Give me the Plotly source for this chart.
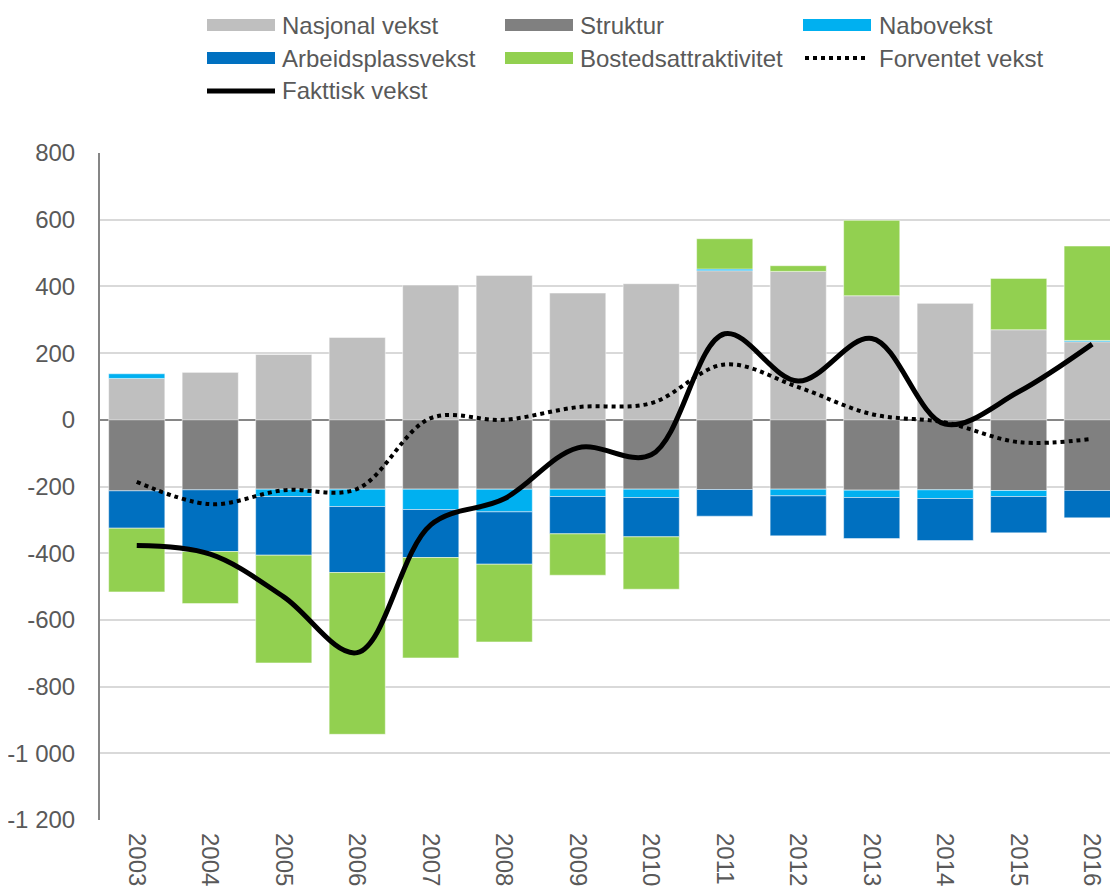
import plotly.graph_objects as go

years = ["2003", "2004", "2005", "2006", "2007", "2008", "2009",
         "2010", "2011", "2012", "2013", "2014", "2015", "2016"]

nasjonal = [124, 143, 196, 247, 404, 433, 380, 408, 447, 445, 372, 350, 270, 234]
struktur = [-213, -210, -208, -208, -208, -208, -208, -208, -209, -208, -211, -210, -212, -212]
nabovekst = [14, 0, -22, -52, -61, -68, -22, -25, 5, -20, -22, -26, -18, 4]
arbeidsplass = [-112, -185, -176, -198, -144, -157, -112, -118, -80, -120, -123, -126, -109, -82]
bosted = [-191, -156, -323, -485, -301, -233, -124, -157, 91, 17, 226, 0, 154, 283]
forventet = [-186, -253, -211, -207, 5, 0, 38, 50, 166, 98, 17, -8, -67, -57]
fakttisk = [-377, -403, -531, -698, -315, -237, -84, -105, 258, 116, 244, -13, 84, 227]

ytick_vals = [800, 600, 400, 200, 0, -200, -400, -600, -800, -1000, -1200]
ytick_text = ["800", "600", "400", "200", "0", "-200", "-400", "-600", "-800", "-1 000", "-1 200"]

names = ["Nasjonal vekst", "Struktur", "Nabovekst", "Arbeidsplassvekst",
         "Bostedsattraktivitet", "Forventet vekst", "Fakttisk vekst"]
colors = ["#BFBFBF", "#808080", "#00B0F0", "#0070C0", "#92D050"]

FONT = "Liberation Sans, Arial, sans-serif"
TXT = "#595959"
FS = 24

fig = go.Figure()
for name, vals, col in zip(names[:5], [nasjonal, struktur, nabovekst, arbeidsplass, bosted], colors):
    fig.add_trace(go.Bar(x=years, y=vals, name=name, marker_color=col,
                         marker_line_width=0.8, marker_line_color="rgba(255,255,255,0.6)",
                         showlegend=False))

fig.add_trace(go.Scatter(x=years, y=forventet, name=names[5], mode="lines",
                         line=dict(color="black", width=4, dash="dot", shape="spline", smoothing=1),
                         showlegend=False))
fig.add_trace(go.Scatter(x=years, y=fakttisk, name=names[6], mode="lines",
                         line=dict(color="black", width=5, shape="spline", smoothing=1),
                         showlegend=False))

# plot area geometry (figure pixels); page body margin is 8 px
OFF = 8
W, H = 1118, 886
L, R, T, B = 92, 1118, 145, 812

def px(xs):
    return (xs - OFF - L) / (R - L)

def py(ys):
    return (B - (ys - OFF)) / (B - T)

shapes = []
annotations = []
legend_items = [
    ("rect", colors[0], 207, 275, 25, 282, names[0]),
    ("rect", colors[1], 505, 573, 25, 580, names[1]),
    ("rect", colors[2], 803, 871, 25, 879, names[2]),
    ("rect", colors[3], 207, 275, 58, 282, names[3]),
    ("rect", colors[4], 505, 573, 58, 580, names[4]),
    ("dot", "black", 805, 868, 58, 879, names[5]),
    ("line", "black", 207, 275, 91, 282, names[6]),
]
for kind, col, x0, x1, yy, tx, label in legend_items:
    if kind == "rect":
        shapes.append(dict(type="rect", xref="paper", yref="paper",
                           x0=px(x0), x1=px(x1), y0=py(yy - 6), y1=py(yy + 6),
                           fillcolor=col, line=dict(width=0)))
    elif kind == "dot":
        shapes.append(dict(type="line", xref="paper", yref="paper",
                           x0=px(x0), x1=px(x1), y0=py(yy), y1=py(yy),
                           line=dict(color=col, width=4, dash="dot")))
    else:
        shapes.append(dict(type="line", xref="paper", yref="paper",
                           x0=px(x0), x1=px(x1), y0=py(yy), y1=py(yy),
                           line=dict(color=col, width=5)))
    annotations.append(dict(xref="paper", yref="paper", x=px(tx), y=py(yy),
                            text=label, showarrow=False, xanchor="left", yanchor="middle",
                            xshift=-2,
                            font=dict(family=FONT, size=FS, color=TXT)))

fig.update_layout(
    width=W, height=H,
    margin=dict(l=L, r=W - R, t=T, b=H - B, pad=0),
    barmode="relative",
    bargap=0.236,
    plot_bgcolor="white", paper_bgcolor="white",
    font=dict(family=FONT, size=FS, color=TXT),
    shapes=shapes, annotations=annotations,
    showlegend=False,
)
fig.update_xaxes(type="category", range=[-0.5, 13.46], tickangle=90,
                 showgrid=False, showline=False, ticks="",
                 ticklabelstandoff=12,
                 tickfont=dict(family=FONT, size=FS, color=TXT))
fig.update_yaxes(range=[-1200, 800], tickvals=ytick_vals, ticktext=ytick_text,
                 showgrid=True, gridcolor="#D9D9D9", gridwidth=2,
                 zeroline=True, zerolinecolor="#868686", zerolinewidth=2,
                 showline=True, linecolor="#868686", linewidth=2,
                 ticks="", ticklabelstandoff=18,
                 tickfont=dict(family=FONT, size=FS, color=TXT))

fig.write_html("out.html")
